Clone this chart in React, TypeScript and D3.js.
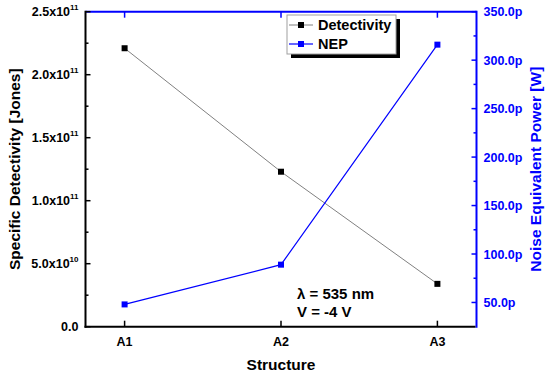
import React from "react";
import * as d3 from "d3";

// values
const structures = ["A1", "A2", "A3"];
const detectivity = [2.21e11, 1.23e11, 0.34e11];
const nep = [48, 89, 316]; // pW
const leftTicks = [0, 0.5e11, 1.0e11, 1.5e11, 2.0e11, 2.5e11];
const leftTickLabels = [
  ["0.0", ""],
  ["5.0x10", "10"],
  ["1.0x10", "11"],
  ["1.5x10", "11"],
  ["2.0x10", "11"],
  ["2.5x10", "11"],
];
const rightTicks = [50, 100, 150, 200, 250, 300, 350];

const W = 550;
const H = 376;
const left = 85.5;
const right = 476.5;
const top = 11.7;
const bottom = 326.7;
const blue = "#0000ff";
const font = "Arial, 'Liberation Sans', sans-serif";

export default function App() {
  const x = d3.scaleLinear().domain([0.75, 3.25]).range([left, right]);
  const yL = d3.scaleLinear().domain([0, 2.5e11]).range([bottom, top]);
  const yR = d3.scaleLinear().domain([25, 350]).range([bottom, top]);

  const detLine = d3
    .line<number>()
    .x((_, i) => x(i + 1))
    .y((d) => yL(d));
  const nepLine = d3
    .line<number>()
    .x((_, i) => x(i + 1))
    .y((d) => yR(d));

  const leftMinor = d3.range(0.25e11, 2.5e11, 0.5e11);
  const rightMinor = d3.range(75, 350, 50);

  return (
    <svg
      width={W}
      height={H}
      style={{ position: "absolute", left: 0, top: 0, background: "#fff" }}
      fontFamily={font}
      fontWeight="bold"
    >
      {/* data lines */}
      <path d={detLine(detectivity) || ""} fill="none" stroke="#808080" strokeWidth={1} />
      <path d={nepLine(nep) || ""} fill="none" stroke={blue} strokeWidth={1.2} />
      {detectivity.map((d, i) => (
        <rect key={"d" + i} x={x(i + 1) - 3} y={yL(d) - 3} width={6} height={6} fill="#000" />
      ))}
      {nep.map((d, i) => (
        <rect key={"n" + i} x={x(i + 1) - 3} y={yR(d) - 3} width={6} height={6} fill={blue} />
      ))}

      {/* top axis (blue) */}
      <line x1={left} x2={right} y1={top} y2={top} stroke={blue} strokeWidth={2} />
      {structures.map((s, i) => (
        <line key={"tt" + s} x1={x(i + 1)} x2={x(i + 1)} y1={top} y2={top + 6} stroke={blue} strokeWidth={1.5} />
      ))}

      {/* right axis (blue) */}
      <line x1={right} x2={right} y1={top - 1} y2={bottom + 1} stroke={blue} strokeWidth={2} />
      {rightTicks.map((t) => (
        <g key={"r" + t}>
          <line x1={right - 5} x2={right} y1={yR(t)} y2={yR(t)} stroke={blue} strokeWidth={1.5} />
          <text x={right + 7} y={yR(t) + 4.5} fontSize={12.5} fill={blue}>
            {t.toFixed(1) + "p"}
          </text>
        </g>
      ))}
      {rightMinor.map((t) => (
        <line key={"rm" + t} x1={right - 3} x2={right} y1={yR(t)} y2={yR(t)} stroke={blue} strokeWidth={1.5} />
      ))}

      {/* bottom axis */}
      <line x1={left - 1} x2={right - 1} y1={bottom} y2={bottom} stroke="#000" strokeWidth={2} />
      {structures.map((s, i) => (
        <g key={"b" + s}>
          <line x1={x(i + 1)} x2={x(i + 1)} y1={bottom - 6} y2={bottom} stroke="#000" strokeWidth={1.5} />
          <text x={x(i + 1)} y={bottom + 19} fontSize={12.5} textAnchor="middle" fill="#000">
            {s}
          </text>
        </g>
      ))}

      {/* left axis */}
      <line x1={left} x2={left} y1={top - 1} y2={bottom + 1} stroke="#000" strokeWidth={2} />
      {leftTicks.map((t, i) => (
        <g key={"l" + t}>
          <line x1={left} x2={left + 5} y1={yL(t)} y2={yL(t)} stroke="#000" strokeWidth={1.5} />
          <text x={left - 7} y={yL(t) + 4.5} fontSize={12.5} textAnchor="end" fill="#000">
            {leftTickLabels[i][0]}
            {leftTickLabels[i][1] && (
              <tspan fontSize={8} dy={-6}>
                {leftTickLabels[i][1]}
              </tspan>
            )}
          </text>
        </g>
      ))}
      {leftMinor.map((t) => (
        <line key={"lm" + t} x1={left} x2={left + 3} y1={yL(t)} y2={yL(t)} stroke="#000" strokeWidth={1.5} />
      ))}

      {/* axis titles */}
      <text x={281} y={370} fontSize={15.5} textAnchor="middle" fill="#000">
        Structure
      </text>
      <text
        transform={`translate(20,${(top + bottom) / 2}) rotate(-90)`}
        fontSize={15.5}
        textAnchor="middle"
        fill="#000"
      >
        Specific Detectivity [Jones]
      </text>
      <text
        transform={`translate(541,${(top + bottom) / 2}) rotate(-90)`}
        fontSize={15.5}
        textAnchor="middle"
        fill={blue}
      >
        Noise Equivalent Power [W]
      </text>

      {/* annotation */}
      <text x={297} y={299} fontSize={15} fill="#000">
        λ = 535 nm
      </text>
      <text x={297} y={317} fontSize={15} fill="#000">
        V = -4 V
      </text>

      {/* legend */}
      <rect x={291} y={19} width={109} height={39} fill="#000" />
      <rect x={287} y={15} width={109} height={39} fill="#fff" stroke="#a0a0a0" strokeWidth={1} />
      <line x1={289} x2={313} y1={25} y2={25} stroke="#808080" strokeWidth={1} />
      <rect x={298} y={22} width={6} height={6} fill="#000" />
      <text x={318} y={30} fontSize={14.5} fill="#000">
        Detectivity
      </text>
      <line x1={289} x2={313} y1={44} y2={44} stroke={blue} strokeWidth={1.2} />
      <rect x={298} y={41} width={6} height={6} fill={blue} />
      <text x={318} y={49} fontSize={14.5} fill="#000">
        NEP
      </text>
    </svg>
  );
}
